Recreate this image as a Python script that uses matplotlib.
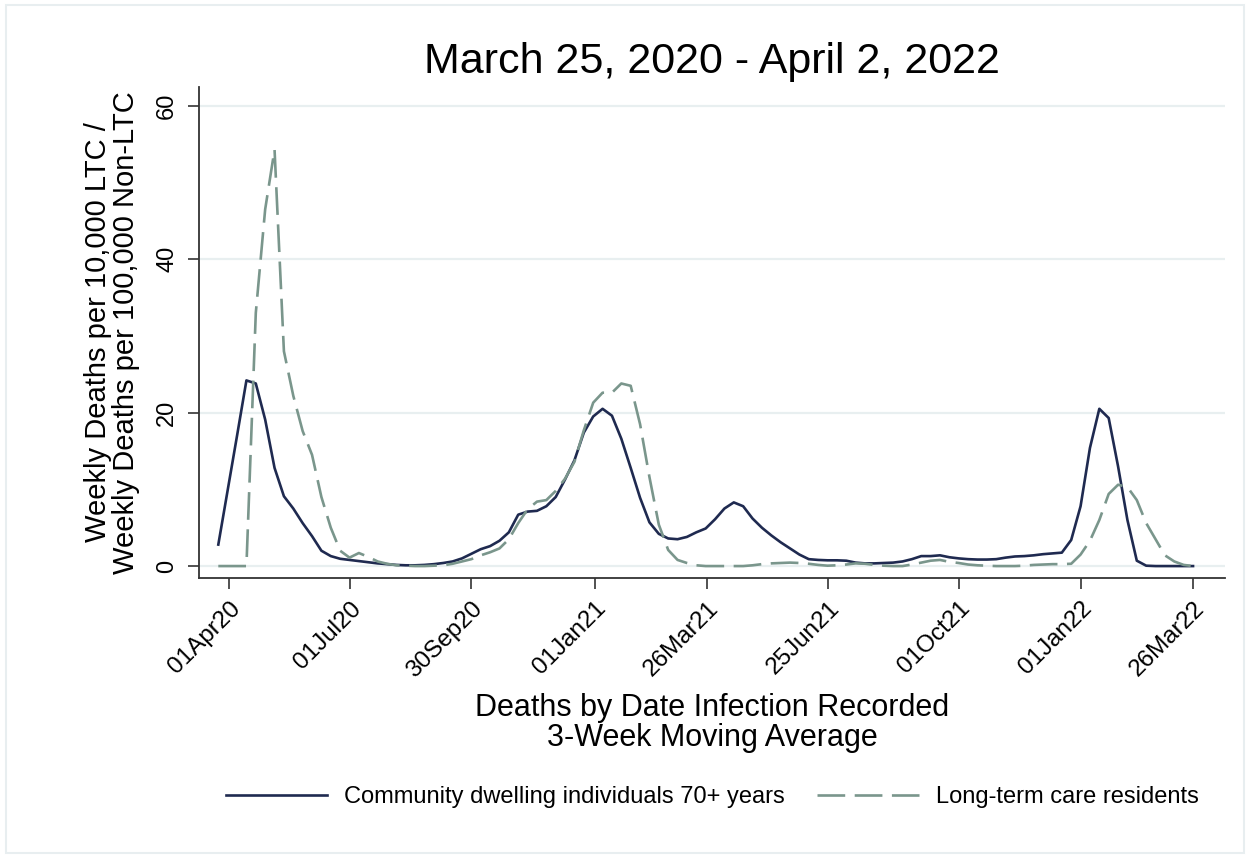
import pandas as pd
import matplotlib
matplotlib.use("Agg")
import matplotlib.pyplot as plt
from matplotlib.patches import Rectangle

plt.rcParams["font.family"] = ["Liberation Sans", "DejaVu Sans"]

# weekly points, 3-week moving average
dates = pd.date_range("2020-03-24", "2022-03-26", periods=105)

community = [2.8, 9.9, 17.0, 24.2, 23.8, 19.1, 12.8, 9.1, 7.5, 5.6,
             3.9, 2.0, 1.3, 0.95, 0.8, 0.65, 0.5, 0.35, 0.25, 0.15,
             0.1, 0.1, 0.15, 0.25, 0.4, 0.6, 1.0, 1.6, 2.2, 2.6,
             3.3, 4.4, 6.7, 7.1, 7.2, 7.8, 9.0, 11.3, 13.8, 17.4,
             19.5, 20.5, 19.6, 16.6, 12.8, 8.9, 5.7, 4.2, 3.6, 3.5,
             3.8, 4.4, 4.9, 6.1, 7.5, 8.3, 7.8, 6.2, 5.0, 4.0,
             3.1, 2.3, 1.5, 0.9, 0.8, 0.75, 0.75, 0.7, 0.45, 0.35,
             0.35, 0.4, 0.45, 0.6, 0.9, 1.3, 1.3, 1.4, 1.15, 1.0,
             0.9, 0.85, 0.85, 0.9, 1.1, 1.25, 1.3, 1.4, 1.55, 1.65,
             1.75, 3.4, 7.8, 15.4, 20.5, 19.3, 13.0, 6.0, 0.7, 0.05,
             0.0, 0.0, 0.0, 0.0, 0.0]

ltc = [0.0, 0.0, 0.0, 0.0, 33.0, 46.5, 54.3, 28.0, 22.2, 17.6,
       14.5, 9.0, 5.0, 2.0, 1.1, 1.7, 1.2, 0.6, 0.3, 0.1,
       0.05, 0.0, 0.0, 0.05, 0.1, 0.3, 0.6, 0.9, 1.4, 1.8,
       2.3, 3.5, 5.6, 7.4, 8.4, 8.6, 9.8, 11.4, 13.6, 17.7,
       21.3, 22.6, 22.6, 23.8, 23.5, 18.5, 11.6, 5.4, 2.1, 0.8,
       0.4, 0.1, 0.0, 0.0, 0.0, 0.0, 0.0, 0.1, 0.25, 0.35,
       0.4, 0.45, 0.4, 0.3, 0.15, 0.05, 0.1, 0.2, 0.35, 0.3,
       0.15, 0.05, 0.0, 0.0, 0.2, 0.45, 0.7, 0.8, 0.55, 0.4,
       0.2, 0.1, 0.05, 0.0, 0.0, 0.0, 0.05, 0.15, 0.2, 0.25,
       0.25, 0.3, 1.5, 3.3, 6.0, 9.4, 10.6, 10.3, 8.6, 5.6,
       3.5, 1.4, 0.6, 0.15, 0.0]

tick_dates = pd.to_datetime(["2020-04-01", "2020-07-01", "2020-09-30", "2021-01-01",
                             "2021-03-26", "2021-06-25", "2021-10-01", "2022-01-01",
                             "2022-03-26"])
tick_labels = [d.strftime("%d%b%y") for d in tick_dates]
y_ticks = [0, 20, 40, 60]

NAVY = "#1f2a50"
SAGE = "#7a968c"

fig = plt.figure(figsize=(12.5, 8.58), dpi=100)
ax = fig.add_axes([0.1592, 0.3263, 0.8208, 0.5723])

ax.plot(dates, community, color=NAVY, lw=1.9, label="Community dwelling individuals 70+ years")
ax.plot(dates, ltc, color=SAGE, lw=1.9, dashes=(10.5, 3.6), label="Long-term care residents")

ax.set_xlim(pd.Timestamp("2020-03-09 12:00"), pd.Timestamp("2022-04-19"))
ax.set_ylim(-1.56, 62.45)

ax.set_yticks(y_ticks)
ax.set_yticklabels([str(v) for v in y_ticks], rotation=90, va="center")
ax.set_xticks(tick_dates)
ax.set_xticklabels(tick_labels, rotation=45, ha="right", rotation_mode="anchor")

ax.yaxis.grid(True, color="#e8eff0", lw=1.6)
ax.set_axisbelow(True)
for side in ["top", "right"]:
    ax.spines[side].set_visible(False)
for side in ["left", "bottom"]:
    ax.spines[side].set_color("#333333")
    ax.spines[side].set_linewidth(1.3)
ax.tick_params(axis="y", length=8, width=1.2, color="#333333", labelsize=17, pad=7)
ax.tick_params(axis="x", length=8, width=1.2, color="#333333", labelsize=17.5, pad=6)

ax.set_title("March 25, 2020 - April 2, 2022", fontsize=31, pad=10)
ax.set_ylabel("Weekly Deaths per 10,000 LTC /\nWeekly Deaths per 100,000 Non-LTC",
              fontsize=21, linespacing=1.0)
ax.yaxis.set_label_coords(-0.0575, 0.5)
ax.set_xlabel("Deaths by Date Infection Recorded\n3-Week Moving Average",
              fontsize=22, linespacing=1.0)
ax.xaxis.set_label_coords(0.5, -0.235)

ax.legend(loc="center", bbox_to_anchor=(0.5, -0.446), ncol=2, frameon=False,
          fontsize=17, handlelength=4.3, handletextpad=0.7, columnspacing=1.4)

fig.patches.append(Rectangle((0.005, 0.006), 0.99, 0.988, transform=fig.transFigure,
                             fill=False, ec="#e8eef0", lw=1.5))

fig.savefig("out.png", dpi=100)
